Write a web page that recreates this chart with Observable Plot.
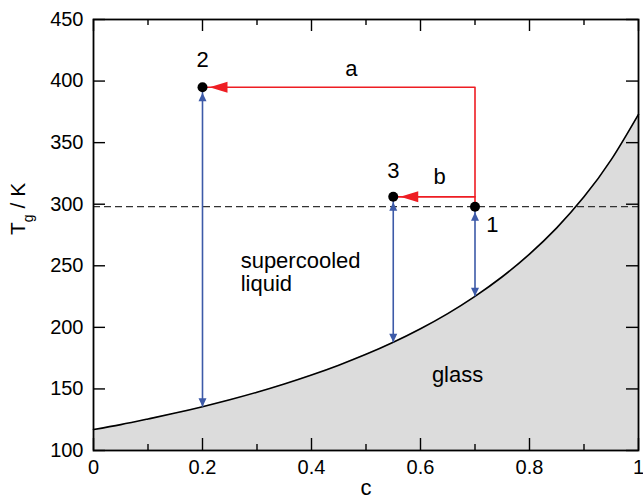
<!DOCTYPE html>
<html>
<head>
<meta charset="utf-8">
<script src="https://cdn.jsdelivr.net/npm/d3@7"></script>
<script src="https://cdn.jsdelivr.net/npm/@observablehq/plot@0.6"></script>
<style>
  html, body { margin: 0; padding: 0; background: #fff; }
</style>
</head>
<body>
<div id="chart"></div>
<script>
// ---- data ----
const curveC = [0, 0.05, 0.1, 0.15, 0.2, 0.25, 0.3, 0.35, 0.4, 0.45, 0.5, 0.55, 0.6, 0.65, 0.7, 0.75, 0.8, 0.85, 0.9, 0.95, 1.0];
const curveT = [117, 121, 125.6, 130.4, 135.6, 141.2, 147.3, 154, 161.3, 169.3, 178.1, 187.9, 198.9, 211.2, 225.2, 241.1, 259.5, 280.8, 306, 336.2, 373];

const pointNames = ["1", "2", "3"];
const pointC = [0.7, 0.2, 0.55];
const pointT = [298, 395, 306];
const pointLabelC = [0.732, 0.2, 0.55];
const pointLabelT = [283, 417, 327];

const refTemp = 298;

// red path a: 1 -> up -> left to 2 ; red path b: 1 -> left to 3
const pathAC = [0.7, 0.7, 0.2];
const pathAT = [298, 395, 395];
const pathBC = [0.7, 0.55];
const pathBT = [306, 306];
const arrowNames = ["a", "b"];
const arrowLabelC = [0.473, 0.635];
const arrowLabelT = [410, 322];

// blue double arrows: from curve up to the state point
const blueC = [0.2, 0.55, 0.7];
const blueLo = [135.6, 187.9, 225.2];
const blueHi = [395, 306, 298];

const regionNames = ["supercooled\nliquid", "glass"];
const regionC = [0.27, 0.668];
const regionT = [262, 161.5];

const xMajor = [0, 0.2, 0.4, 0.6, 0.8, 1];
const xMinor = [0.1, 0.3, 0.5, 0.7, 0.9];
const yTicks = [100, 150, 200, 250, 300, 350, 400, 450];
const yLabel = "Tg / K";
const xLabel = "c";

// ---- build tables ----
const curve = curveC.map((c, i) => ({c, t: curveT[i]}));
const points = pointNames.map((n, i) => ({n, c: pointC[i], t: pointT[i]}));
const pointLabels = pointNames.map((n, i) => ({n, c: pointLabelC[i], t: pointLabelT[i]}));
const pathA = pathAC.map((c, i) => ({c, t: pathAT[i]}));
const pathB = pathBC.map((c, i) => ({c, t: pathBT[i]}));
const arrowLabels = arrowNames.map((n, i) => ({n, c: arrowLabelC[i], t: arrowLabelT[i]}));
const redHeads = [{c: pathAC[2], t: pathAT[2]}, {c: pathBC[1], t: pathBT[1]}];
const blue = blueC.map((c, i) => ({c, lo: blueLo[i], hi: blueHi[i]}));
const regions = regionNames.map((n, i) => ({n, c: regionC[i], t: regionT[i]}));

// ---- arrowhead symbols (tip offset in px) ----
const headLeft = {draw(ctx) { ctx.moveTo(7, 0); ctx.lineTo(25, -5.5); ctx.lineTo(25, 5.5); ctx.closePath(); }};
const headUp = {draw(ctx) { ctx.moveTo(0, 5.5); ctx.lineTo(-4, 14); ctx.lineTo(4, 14); ctx.closePath(); }};
const headDown = {draw(ctx) { ctx.moveTo(0, 0); ctx.lineTo(-4, -8.5); ctx.lineTo(4, -8.5); ctx.closePath(); }};

const RED = "#ee1d23";
const BLUE = "#3d5aa8";
const W = 643, H = 499;
const mL = 93, mR = 5, mT = 19, mB = 49;
const pw = W - mL - mR, ph = H - mT - mB;

const chart = Plot.plot({
  width: W,
  height: H,
  marginLeft: mL,
  marginRight: mR,
  marginTop: mT,
  marginBottom: mB,
  style: {fontFamily: "'Liberation Sans', Arial, Helvetica, sans-serif", fontSize: "20px", background: "#fff", color: "#000"},
  x: {domain: [0, 1]},
  y: {domain: [100, 450]},
  marks: [
    Plot.areaY(curve, {x: "c", y1: 100, y2: "t", fill: "#dcdcdc", curve: "natural"}),
    Plot.line(curve, {x: "c", y: "t", stroke: "#000", strokeWidth: 1.6, curve: "natural"}),
    Plot.ruleY([refTemp], {stroke: "#333", strokeWidth: 1.2, strokeDasharray: "7,4"}),
    // red paths
    Plot.line(pathA, {x: "c", y: "t", stroke: RED, strokeWidth: 1.6}),
    Plot.line(pathB, {x: "c", y: "t", stroke: RED, strokeWidth: 1.6}),
    Plot.dot(redHeads, {x: "c", y: "t", symbol: headLeft, fill: RED, stroke: "none"}),
    // blue double arrows
    Plot.link(blue, {x1: "c", x2: "c", y1: "lo", y2: "hi", stroke: BLUE, strokeWidth: 1.6}),
    Plot.dot(blue, {x: "c", y: "hi", symbol: headUp, fill: BLUE, stroke: "none"}),
    Plot.dot(blue, {x: "c", y: "lo", symbol: headDown, fill: BLUE, stroke: "none"}),
    // state points
    Plot.dot(points, {x: "c", y: "t", r: 5, fill: "#000", stroke: "none"}),
    Plot.text(pointLabels, {x: "c", y: "t", text: "n", fontSize: 22}),
    Plot.text(arrowLabels, {x: "c", y: "t", text: "n", fontSize: 22}),
    Plot.text(regions.slice(0, 1), {x: "c", y: "t", text: "n", fontSize: 22, textAnchor: "start", lineAnchor: "top", lineHeight: 1.06, letterSpacing: 0.5}),
    Plot.text(regions.slice(1), {x: "c", y: "t", text: "n", fontSize: 22}),
    // ticks (inward)
    Plot.tickX(xMajor, {x: d => d, insetTop: ph - 12, stroke: "#000", strokeWidth: 1.4}),
    Plot.tickX(xMinor, {x: d => d, insetTop: ph - 6, stroke: "#000", strokeWidth: 1.4}),
    Plot.tickX(xMajor, {x: d => d, insetBottom: ph - 12, stroke: "#000", strokeWidth: 1.4}),
    Plot.tickX(xMinor, {x: d => d, insetBottom: ph - 6, stroke: "#000", strokeWidth: 1.4}),
    Plot.tickY(yTicks, {y: d => d, insetRight: pw - 12, stroke: "#000", strokeWidth: 1.4}),
    Plot.tickY(yTicks, {y: d => d, insetLeft: pw - 12, stroke: "#000", strokeWidth: 1.4}),
    Plot.frame({stroke: "#000", strokeWidth: 1.8}),
    // tick labels
    Plot.axisX(xMajor, {anchor: "bottom", tickSize: 0, tickPadding: 9, fontSize: 20, label: null, tickFormat: d => String(d)}),
    Plot.axisY(yTicks, {anchor: "left", tickSize: 0, tickPadding: 10, fontSize: 20, label: null}),
    // axis titles
    Plot.text([yLabel], {frameAnchor: "left", dx: -75, rotate: -90, fontSize: 21, text: d => d}),
    Plot.text([xLabel], {frameAnchor: "bottom", dy: 44, fontSize: 22, text: d => d})
  ]
});

// subscript g in the y-axis title
chart.querySelectorAll("text").forEach(t => {
  if (t.textContent === yLabel) {
    t.textContent = "";
    const ns = "http://www.w3.org/2000/svg";
    const a = document.createElementNS(ns, "tspan"); a.textContent = "T";
    const b = document.createElementNS(ns, "tspan"); b.textContent = "g"; b.setAttribute("font-size", "14"); b.setAttribute("dy", "8");
    const c = document.createElementNS(ns, "tspan"); c.textContent = " / K"; c.setAttribute("dy", "-8");
    t.append(a, b, c);
  }
});

document.getElementById("chart").append(chart);
</script>
</body>
</html>
